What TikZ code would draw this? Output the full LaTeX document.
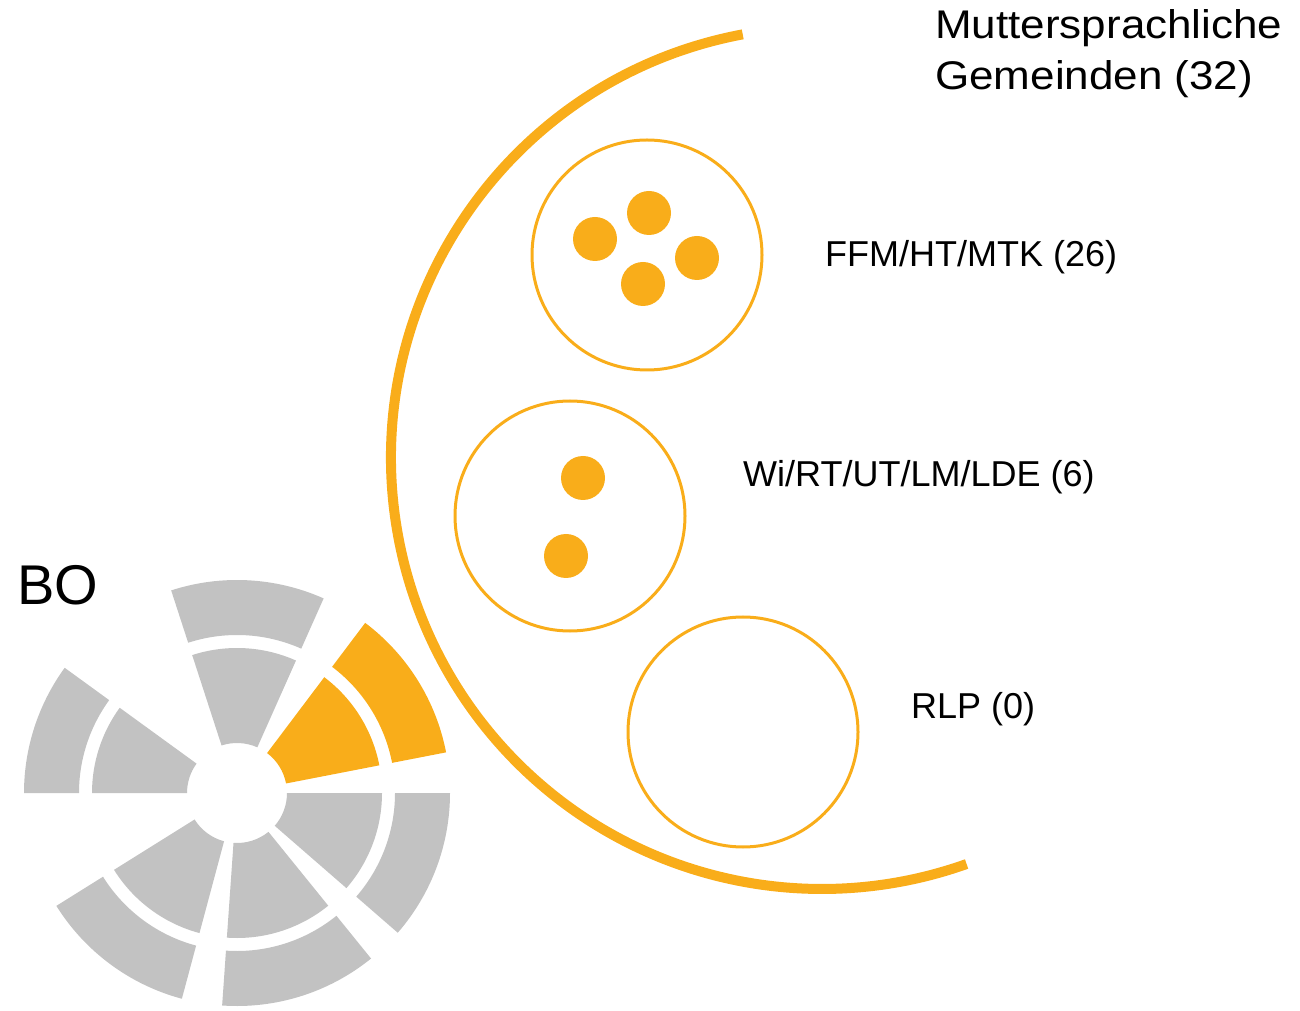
\documentclass[tikz,border=0pt]{standalone}
\usepackage{fontspec}
\setmainfont{Liberation Sans}
\newfontfamily\ttlfont[FakeStretch=1.1]{Liberation Sans}
\definecolor{orng}{RGB}{249,173,26}
\definecolor{wgrey}{RGB}{194,194,194}
\newcommand\ringseg[5]{%
  \fill[#1] (#2:#4pt) arc[start angle=#2, end angle=#3, radius=#4pt]
    -- (#3:#5pt) arc[start angle=#3, end angle=#2, radius=#5pt] -- cycle;}
\newcommand\wheelseg[3]{%
  \ringseg{#1}{#2}{#3}{50}{145}\ringseg{#1}{#2}{#3}{158}{213}}
\begin{document}
\begin{tikzpicture}[x=1pt,y=1pt,
  label/.style={anchor=base west, inner sep=0pt, font=\fontsize{36}{42}\selectfont},
  title/.style={anchor=base west, inner sep=0pt, font=\ttlfont\fontsize{40}{48}\selectfont},
  group/.style={circle, draw=orng, line width=3pt, minimum size=230pt, inner sep=0pt},
  dot/.style={circle, fill=orng, minimum size=44pt, inner sep=0pt},
  bigarc/.style={draw=orng, line width=10pt}]
\useasboundingbox (0,0) rectangle (1300,1010);
% titles and labels
\node[title] (t1) at (935,971) {Muttersprachliche};
\node[title] (t2) at (935,920) {Gemeinden (32)};
\node[label] (l1) at (825,743) {FFM/HT/MTK (26)};
\node[label] (l2) at (743,523) {Wi/RT/UT/LM/LDE (6)};
\node[label] (l3) at (911,292) {RLP (0)};
\node[anchor=base west, inner sep=0pt, font=\fontsize{56}{60}\selectfont] (bo) at (17,405) {BO};
% big arc
\coordinate (bigc) at (822,552);
\draw[bigarc] ([shift={(100.6:431pt)}]bigc) arc[start angle=100.6, end angle=289.6, radius=431pt];
% group circles
\node[group] (g1) at (647,755) {};
\node[group] (g2) at (570,494) {};
\node[group] (g3) at (743,278) {};
% dots
\node[dot] (d1) at (595,771) {};
\node[dot] (d2) at (649,797) {};
\node[dot] (d3) at (697,752) {};
\node[dot] (d4) at (643,726) {};
\node[dot] (d5) at (583,532) {};
\node[dot] (d6) at (566,454) {};
% wheel
\coordinate (wc) at (237,217);
\begin{scope}[shift={(wc)}]
  \wheelseg{wgrey}{144}{180}
  \wheelseg{wgrey}{66}{108}
  \wheelseg{orng}{11}{53}
  \wheelseg{wgrey}{-41}{0}
  \wheelseg{wgrey}{-94}{-51}
  \wheelseg{wgrey}{-148}{-105}
\end{scope}
\end{tikzpicture}
\end{document}
